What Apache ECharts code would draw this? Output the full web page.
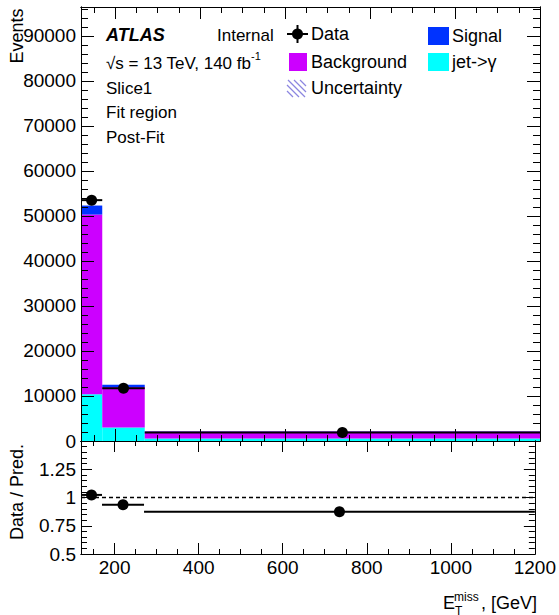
<!DOCTYPE html>
<html>
<head>
<meta charset="utf-8">
<script src="https://cdn.jsdelivr.net/npm/echarts@6/dist/echarts.min.js"></script>
<style>
html, body { margin: 0; padding: 0; background: #fff; }
#chart { width: 559px; height: 615px; }
</style>
</head>
<body>
<div id="chart"></div>
<script>
// bin edges of Etmiss [GeV]
var binEdges = [120, 170, 270, 1200];
// stacked predictions (events per bin), bottom to top
var jetGamma = [10400, 3000, 550];
var background = [39900, 9000, 1540];
var signal = [2000, 500, 50];
// observed data
var dataCounts = [53500, 11700, 1870];

// tick labels
var xTicks = [200, 400, 600, 800, 1000, 1200];
var yTicks = [0, 10000, 20000, 30000, 40000, 50000, 60000, 70000, 80000, 90000];
var ratioTicks = [0.5, 0.75, 1, 1.25];

var FONT = '"Liberation Sans", Arial, Helvetica, sans-serif';
var xMin = 120, xMax = 1200;
var yMax = 96400;
var rMin = 0.5, rMax = 1.5;

// minor tick positions (axis styling only)
function steps(a, b, s) {
  var out = [];
  for (var v = a; v <= b + 1e-9; v += s) out.push(Math.round(v * 1000) / 1000);
  return out;
}
var xMinor = steps(150, 1150, 50);
var yMinor = steps(2000, 96000, 2000);
var rMinor = steps(0.55, 1.45, 0.05);

var myChart = echarts.init(document.getElementById('chart'), null, { renderer: 'svg' });

function axis(grid, pos, min, max, ticks, len, showLabel) {
  return {
    type: 'value', gridIndex: grid, position: pos, min: min, max: max, z: 10,
    axisLine: { show: true, onZero: false, lineStyle: { color: '#000', width: 1 } },
    axisTick: { show: true, inside: true, length: len, customValues: ticks, lineStyle: { color: '#000', width: 1 } },
    axisLabel: showLabel ? {
      show: true, customValues: ticks, color: '#000', fontSize: 19, fontFamily: FONT, margin: 5,
      formatter: function (v) { return String(v); }
    } : { show: false },
    splitLine: { show: false }
  };
}

var xAxes = [
  axis(0, 'bottom', xMin, xMax, xTicks, 12, false),
  axis(0, 'bottom', xMin, xMax, xMinor, 6, false),
  axis(0, 'top', xMin, xMax, xTicks, 12, false),
  axis(0, 'top', xMin, xMax, xMinor, 6, false),
  axis(1, 'bottom', xMin, xMax, xTicks, 11, true),
  axis(1, 'bottom', xMin, xMax, xMinor, 5, false),
  axis(1, 'top', xMin, xMax, xTicks, 11, false),
  axis(1, 'top', xMin, xMax, xMinor, 5, false)
];
xAxes[4].axisLabel.margin = 4;
var yAxes = [
  axis(0, 'left', 0, yMax, yTicks, 13, true),
  axis(0, 'left', 0, yMax, yMinor, 7, false),
  axis(0, 'right', 0, yMax, yTicks, 13, false),
  axis(0, 'right', 0, yMax, yMinor, 7, false),
  axis(1, 'left', rMin, rMax, ratioTicks, 11, true),
  axis(1, 'left', rMin, rMax, rMinor, 6, false),
  axis(1, 'right', rMin, rMax, ratioTicks, 11, false),
  axis(1, 'right', rMin, rMax, rMinor, 6, false)
];

// stacked rects [x0, x1, ylow, yhigh]
var stackLow = [0, 0, 0];
function stackRects(vals) {
  var out = [];
  for (var i = 0; i < vals.length; i++) {
    out.push([binEdges[i], binEdges[i + 1], stackLow[i], stackLow[i] + vals[i]]);
    stackLow[i] += vals[i];
  }
  return out;
}
var jetRects = stackRects(jetGamma);
var bkgRects = stackRects(background);
var sigRects = stackRects(signal);
var totals = stackLow.slice();

// data points [xc, y, x0, x1, err]
var dataPts = [], ratioPts = [];
for (var i = 0; i < dataCounts.length; i++) {
  var xc = (binEdges[i] + binEdges[i + 1]) / 2;
  var err = Math.sqrt(dataCounts[i]);
  dataPts.push([xc, dataCounts[i], binEdges[i], binEdges[i + 1], err]);
  ratioPts.push([xc, dataCounts[i] / totals[i], binEdges[i], binEdges[i + 1], err / totals[i]]);
}

function renderRect(params, api) {
  var p0 = api.coord([api.value(0), api.value(3)]);
  var p1 = api.coord([api.value(1), api.value(2)]);
  return {
    type: 'rect',
    shape: { x: p0[0], y: p0[1], width: p1[0] - p0[0], height: p1[1] - p0[1] },
    style: { fill: api.visual('color') }
  };
}
// data marker: bin-wide horizontal bar, stat. error, filled circle
function renderPoint(params, api) {
  var c = api.coord([api.value(0), api.value(1)]);
  var l = api.coord([api.value(2), api.value(1)]);
  var r = api.coord([api.value(3), api.value(1)]);
  var hi = api.coord([api.value(0), api.value(1) + api.value(4)]);
  var lo = api.coord([api.value(0), api.value(1) - api.value(4)]);
  return {
    type: 'group',
    children: [
      { type: 'line', shape: { x1: l[0], y1: c[1], x2: r[0], y2: c[1] }, style: { stroke: '#000', lineWidth: 2 } },
      { type: 'line', shape: { x1: c[0], y1: hi[1], x2: c[0], y2: lo[1] }, style: { stroke: '#000', lineWidth: 2 } },
      { type: 'circle', shape: { cx: c[0], cy: c[1], r: 5.5 }, style: { fill: '#000' } }
    ]
  };
}
function renderUnity(params, api) {
  var a = api.coord([api.value(0), api.value(2)]);
  var b = api.coord([api.value(1), api.value(2)]);
  return {
    type: 'line', shape: { x1: a[0], y1: a[1], x2: b[0], y2: b[1] },
    style: { stroke: '#000', lineWidth: 1.5, lineDash: [4, 3] }
  };
}
function histSeries(name, rects, color) {
  return {
    name: name, type: 'custom', xAxisIndex: 0, yAxisIndex: 0,
    renderItem: renderRect, data: rects, z: 2,
    itemStyle: { color: color }, encode: { x: [0, 1], y: [2, 3] }
  };
}

// legend / labels as graphics
function txt(x, y, s, size, extra) {
  var st = { text: s, fontSize: size, fontFamily: FONT, fill: '#000', align: 'left', verticalAlign: 'middle' };
  for (var k in extra) st[k] = extra[k];
  return { type: 'text', x: x, y: y, style: st, z: 100 };
}
function hatch(x0, y0, w, h, gap) {
  var out = [];
  for (var c = gap; c < w + h; c += gap) {
    var xa = Math.max(0, c - h), xb = Math.min(w, c);
    out.push({ type: 'line', shape: { x1: x0 + xa, y1: y0 + h - (c - xa), x2: x0 + xb, y2: y0 + h - (c - xb) },
      style: { stroke: '#8c86e0', lineWidth: 1.2 }, z: 100 });
  }
  return out;
}
var yTitle = txt(17, 36, 'Events', 18, { align: 'center' });
yTitle.rotation = Math.PI / 2;
var rTitle = txt(17, 492, 'Data / Pred.', 18, { align: 'center' });
rTitle.rotation = Math.PI / 2;
var graphics = [
  txt(106, 35, 'ATLAS', 18, { fontWeight: 'bold', fontStyle: 'italic' }),
  txt(217, 35, 'Internal', 17),
  txt(106, 63, '\u221As = 13 TeV, 140 fb', 17),
  txt(251, 56, '-1', 11),
  txt(106, 88, 'Slice1', 17),
  txt(106, 112, 'Fit region', 17),
  txt(106, 137, 'Post-Fit', 17),
  // legend
  { type: 'line', shape: { x1: 287, y1: 34, x2: 308, y2: 34 }, style: { stroke: '#000', lineWidth: 2 }, z: 100 },
  { type: 'line', shape: { x1: 297.5, y1: 25, x2: 297.5, y2: 43 }, style: { stroke: '#000', lineWidth: 2 }, z: 100 },
  { type: 'circle', shape: { cx: 297.5, cy: 34, r: 5.5 }, style: { fill: '#000' }, z: 100 },
  txt(311, 34, 'Data', 18),
  { type: 'rect', shape: { x: 289, y: 53, width: 18, height: 18 }, style: { fill: '#cc00ff' }, z: 100 },
  txt(311, 62, 'Background', 18),
  txt(311, 88, 'Uncertainty', 18),
  { type: 'rect', shape: { x: 428, y: 27, width: 21, height: 18 }, style: { fill: '#0033ff' }, z: 100 },
  txt(452, 36, 'Signal', 18),
  { type: 'rect', shape: { x: 428, y: 53, width: 21, height: 18 }, style: { fill: '#00ffff' }, z: 100 },
  txt(452, 62, 'jet->\u03b3', 18),
  // axis titles
  yTitle,
  rTitle,
  txt(443, 603, 'E', 18),
  txt(454, 597, 'miss', 12),
  txt(455, 611, 'T', 12),
  txt(481, 603, ', [GeV]', 18)
].concat(hatch(287, 80, 19, 17, 6));

myChart.setOption({
  animation: false,
  grid: [
    { left: 81, top: 7, width: 459, height: 434 },
    { left: 81, top: 441, width: 459, height: 113 }
  ],
  xAxis: xAxes,
  yAxis: yAxes,
  series: [
    histSeries('jet->\u03b3', jetRects, '#00ffff'),
    histSeries('Background', bkgRects, '#cc00ff'),
    histSeries('Signal', sigRects, '#0033ff'),
    {
      name: 'Data', type: 'custom', xAxisIndex: 0, yAxisIndex: 0, renderItem: renderPoint,
      data: dataPts, z: 5, encode: { x: 0, y: 1 }
    },
    {
      name: 'Unity', type: 'custom', xAxisIndex: 4, yAxisIndex: 4, renderItem: renderUnity,
      data: [[xMin, xMax, 1]], z: 3, encode: { x: [0, 1], y: 2 }
    },
    {
      name: 'Ratio', type: 'custom', xAxisIndex: 4, yAxisIndex: 4, renderItem: renderPoint,
      data: ratioPts, z: 5, encode: { x: 0, y: 1 }
    }
  ],
  graphic: graphics
});
</script>
</body>
</html>
